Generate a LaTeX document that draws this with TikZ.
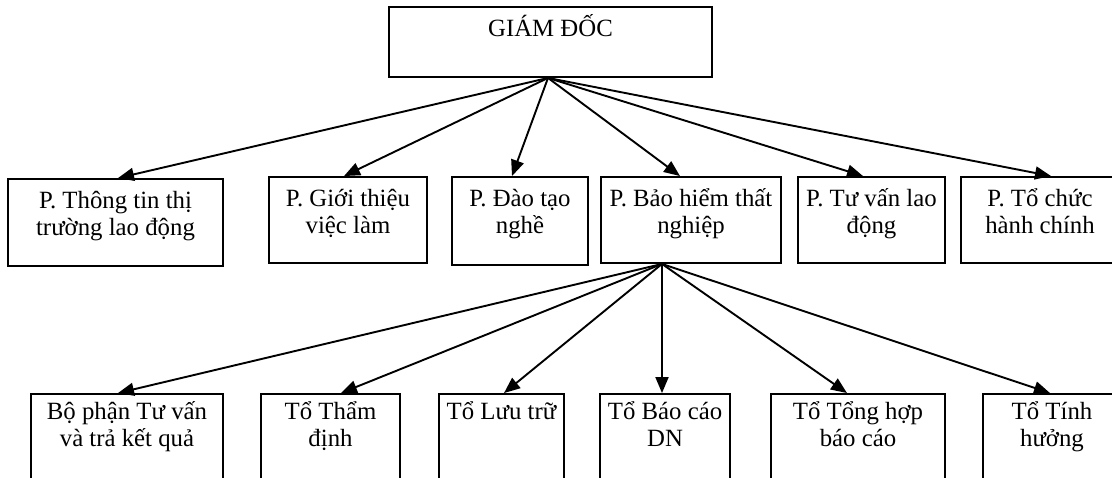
\documentclass[tikz,border=0pt]{standalone}
\usepackage{fontspec}
\setmainfont{Liberation Serif}
\usetikzlibrary{arrows.meta}
\newcommand\mylblfont{\fontsize{24.8}{27}\selectfont\lineskiplimit=-30pt\relax}
\begin{document}
\begin{tikzpicture}[x=1pt,y=-1pt,
  box/.style={draw, line width=1.9pt, inner sep=0pt, rectangle},
  lbl/.style={anchor=north, inner sep=0pt, align=center, font=\mylblfont},
  arr/.style={line width=1.9pt, -{Triangle[length=16pt,width=13pt]}}]
\path[use as bounding box] (0,0) rectangle (1112,478);
\fill[white] (0,0) rectangle (1112,478);
\clip (0,0) rectangle (1112,478);

% top box
\node[box, minimum width=323pt, minimum height=70pt] (g) at (550.5,42) {};
\node[lbl] (gt) at (550.5,10) {\rule{0pt}{26pt}GIÁM ĐỐC};

% row 1
\node[box, minimum width=215pt, minimum height=87pt] (p1) at (115.5,222.5) {};
\node[box, minimum width=158pt, minimum height=86pt] (p2) at (348,220) {};
\node[box, minimum width=136pt, minimum height=88pt] (p3) at (520,221) {};
\node[box, minimum width=180pt, minimum height=86pt] (p4) at (691,220) {};
\node[box, minimum width=147pt, minimum height=86pt] (p5) at (871.5,220) {};
\node[box, minimum width=158pt, minimum height=86pt] (p6) at (1040,220) {};

\node[lbl] (p1t) at (115.5,182) {\rule{0pt}{26pt}P. Thông tin thị\\trường lao động};
\node[lbl] (p2t) at (348,180) {\rule{0pt}{26pt}P. Giới thiệu\\việc làm};
\node[lbl] (p3t) at (520,180) {\rule{0pt}{26pt}P. Đào tạo\\nghề};
\node[lbl] (p4t) at (691,180) {\rule{0pt}{26pt}P. Bảo hiểm thất\\nghiệp};
\node[lbl] (p5t) at (871.5,180) {\rule{0pt}{26pt}P. Tư vấn lao\\động};
\node[lbl] (p6t) at (1040,180) {\rule{0pt}{26pt}P. Tổ chức\\hành chính};

% row 2
\node[box, minimum width=192pt, minimum height=106pt] (t1) at (127,447) {};
\node[box, minimum width=139pt, minimum height=106pt] (t2) at (330.5,447) {};
\node[box, minimum width=125pt, minimum height=106pt] (t3) at (501.5,447) {};
\node[box, minimum width=130pt, minimum height=106pt] (t4) at (665,447) {};
\node[box, minimum width=174pt, minimum height=106pt] (t5) at (858,447) {};
\node[box, minimum width=138pt, minimum height=106pt] (t6) at (1052,447) {};

\node[lbl] (t1t) at (127,393) {\rule{0pt}{26pt}Bộ phận Tư vấn\\và trả kết quả};
\node[lbl] (t2t) at (330.5,393) {\rule{0pt}{26pt}Tổ Thẩm\\định};
\node[lbl] (t3t) at (501.5,393) {\rule{0pt}{26pt}Tổ Lưu trữ};
\node[lbl] (t4t) at (665,393) {\rule{0pt}{26pt}Tổ Báo cáo\\DN};
\node[lbl] (t5t) at (858,393) {\rule{0pt}{26pt}Tổ Tổng hợp\\báo cáo};
\node[lbl] (t6t) at (1052,393) {\rule{0pt}{26pt}Tổ Tính\\hưởng};

% connectors
\coordinate (gs) at ([xshift=-2.5pt]g.south);
\coordinate (ps) at ([xshift=-29pt]p4.south);
\draw[arr] (gs) -- ([xshift=2.5pt]p1.north);
\draw[arr] (gs) -- ([xshift=-4pt]p2.north);
\draw[arr] (gs) -- ([xshift=-8pt]p3.north);
\draw[arr] (gs) -- ([xshift=-11pt]p4.north);
\draw[arr] (gs) -- ([xshift=-8.5pt]p5.north);
\draw[arr] (gs) -- ([xshift=11pt]p6.north);

\draw[arr] (ps) -- ([xshift=-9pt]t1.north);
\draw[arr] (ps) -- ([xshift=10.5pt]t2.north);
\draw[arr] (ps) -- ([xshift=2.5pt]t3.north);
\draw[arr] (ps) -- ([xshift=-3pt]t4.north);
\draw[arr] (ps) -- ([xshift=-11pt]t5.north);
\draw[arr] (ps) -- ([xshift=-2pt]t6.north);
\end{tikzpicture}
\end{document}
